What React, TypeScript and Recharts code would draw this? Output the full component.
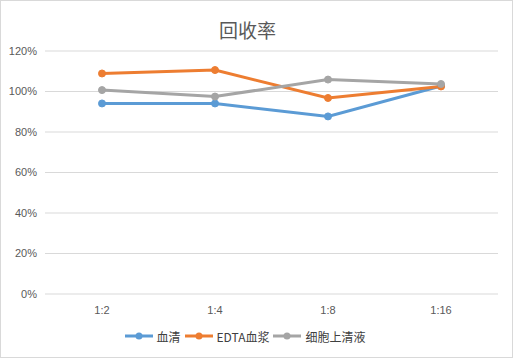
import React from 'react';
import { LineChart, Line, XAxis, YAxis, CartesianGrid, Legend } from 'recharts';

const categories = ['1:2', '1:4', '1:8', '1:16'];
const serum = [0.941, 0.941, 0.877, 1.027];
const edta = [1.089, 1.106, 0.968, 1.025];
const supernatant = [1.007, 0.975, 1.059, 1.037];
const yTicks = [0, 0.2, 0.4, 0.6, 0.8, 1.0, 1.2];

const seriesDefs = [
  { key: 'serum', name: '血清', color: '#5B9BD5' },
  { key: 'edta', name: 'EDTA血浆', color: '#ED7D31' },
  { key: 'sup', name: '细胞上清液', color: '#A5A5A5' },
];

const data = categories.map((c, i) => ({
  cat: c,
  serum: serum[i],
  edta: edta[i],
  sup: supernatant[i],
}));

const tickFont = { fontSize: 11, fill: '#595959', fontFamily: 'Liberation Sans, Arial, sans-serif' };

const LegendContent = () => (
  <div style={{ display: 'flex', justifyContent: 'center', alignItems: 'center', height: 24, fontFamily: '"Noto Sans CJK SC", sans-serif', fontSize: 12, color: '#404040', paddingRight: 4 }}>
    {seriesDefs.map((s) => (
      <div key={s.key} style={{ display: 'flex', alignItems: 'center', marginRight: 4 }}>
        <svg width={28} height={10} style={{ marginRight: 4 }}>
          <line x1={0} y1={5} x2={28} y2={5} stroke={s.color} strokeWidth={3} />
          <circle cx={14} cy={5} r={3.5} fill={s.color} />
        </svg>
        <span>{s.name}</span>
      </div>
    ))}
  </div>
);

export default function App() {
  return (
    <div style={{ position: 'absolute', left: 0, top: 0, width: 513, height: 358 }}>
      <div style={{ position: 'absolute', left: 0, top: 0, width: 511, height: 356, border: '1px solid #d9d9d9' }} />
      <div style={{ position: 'absolute', left: 0, top: 16, width: 495, textAlign: 'center', fontFamily: '"Noto Sans CJK SC", sans-serif', fontSize: 19, color: '#595959', lineHeight: '28px' }}>
        回收率
      </div>
      <LineChart width={513} height={358} data={data} margin={{ top: 51, right: 15, bottom: 10, left: 0 }}>
        <CartesianGrid vertical={false} stroke="#d9d9d9" />
        <XAxis dataKey="cat" axisLine={false} tickLine={false} height={30} tick={tickFont} tickMargin={6} padding={{ left: 57, right: 57 }} />
        <YAxis
          domain={[0, 1.2]}
          ticks={yTicks}
          width={45}
          axisLine={false}
          tickLine={false}
          tick={tickFont}
          tickFormatter={(v: number) => `${Math.round(v * 100)}%`}
          interval={0}
        />
        {seriesDefs.map((s) => (
          <Line
            key={s.key}
            dataKey={s.key}
            name={s.name}
            stroke={s.color}
            strokeWidth={3}
            dot={{ r: 3.5, fill: s.color, stroke: s.color, strokeWidth: 1 }}
            isAnimationActive={false}
          />
        ))}
        <Legend verticalAlign="bottom" height={24} content={<LegendContent />} />
      </LineChart>
    </div>
  );
}
